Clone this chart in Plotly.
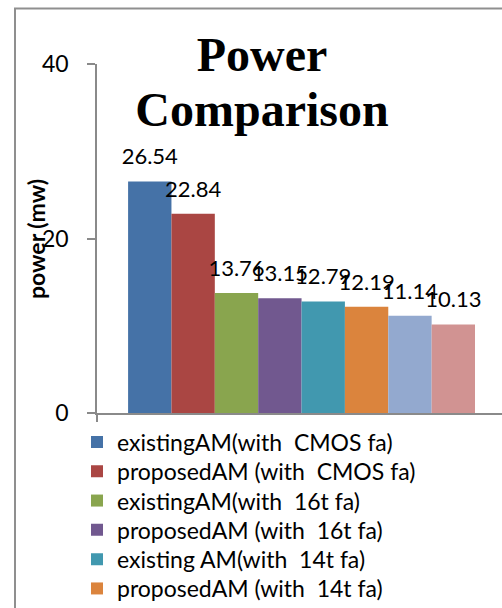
import plotly.graph_objects as go

# Power consumption of each array multiplier variant (mW)
series_names = [
    "existingAM(with  CMOS fa)",
    "proposedAM (with  CMOS fa)",
    "existingAM(with  16t fa)",
    "proposedAM (with  16t fa)",
    "existing AM(with  14t fa)",
    "proposedAM (with  14t fa)",
    "existingAM(with  10t fa)",
    "proposedAM (with  10t fa)",
]
power_mw = [26.54, 22.84, 13.76, 13.15, 12.79, 12.19, 11.14, 10.13]
series_colors = ["#4572A7", "#AA4643", "#89A54E", "#71588F",
                 "#4198AF", "#DB843D", "#93A9CF", "#D19392"]
category = [""]
y_ticks = [0, 20, 40]

W, H = 502, 608
ML, MR, MT, MB = 97, 0, 64, 195
plot_h = H - MT - MB
plot_w = W - ML - MR

def px_to_paper_y(py):
    return (H - MB - py) / plot_h

def px_to_paper_x(px):
    return (px - ML) / plot_w

fig = go.Figure()

# bars, one trace per variant, each with its own one-item legend
for i, (name, val, col) in enumerate(zip(series_names, power_mw, series_colors)):
    fig.add_trace(go.Bar(
        x=category, y=[val], name=name, marker_color=col,
        marker_line_width=0,
        legend="legend" if i == 0 else f"legend{i + 1}",
    ))

# value labels sitting above each bar (invisible marker sets the lift)
for name, val in zip(series_names, power_mw):
    fig.add_trace(go.Scatter(
        x=category, y=[val], mode="markers+text",
        text=[f"{val:.2f}"], textposition="top center",
        marker=dict(size=17, opacity=0),
        textfont=dict(family="Lato", size=22, color="#000000"),
        showlegend=False, hoverinfo="skip", cliponaxis=False,
    ))

legend_font = dict(family="Lato", size=23, color="#000000")
row0, row_step = 442, 29.3
legends = {}
for i in range(len(series_names)):
    key = "legend" if i == 0 else f"legend{i + 1}"
    legends[key] = dict(
        x=px_to_paper_x(77), xanchor="left",
        y=px_to_paper_y(row0 + row_step * i), yanchor="middle",
        font=legend_font, bgcolor="rgba(0,0,0,0)", borderwidth=0,
        visible=(i < 6),
    )

title_text = ("<span style='font-size:48px'>Power</span><br>"
              "<span style='font-size:48px'>Comparison</span>")

fig.update_layout(
    width=W, height=H,
    margin=dict(l=ML, r=MR, t=MT, b=MB, autoexpand=False),
    paper_bgcolor="white", plot_bgcolor="white",
    barmode="group", bargap=0.152, bargroupgap=0,
    scattermode="group", scattergap=0.152,
    title=dict(
        text=title_text,
        x=262 / W, xanchor="center", xref="container",
        y=1 - 71 / H, yanchor="top", yref="container",
        font=dict(family="Liberation Serif", size=42, color="#000000", weight="bold"),
    ),
    xaxis=dict(
        range=[-0.5, 0.49], showticklabels=False, showgrid=False,
        showline=True, linecolor="#8a8a8a", linewidth=1.5,
        ticks="outside", tickson="boundaries", ticklen=7,
        tickcolor="#8a8a8a", tickwidth=1.5, zeroline=False,
    ),
    yaxis=dict(
        range=[0, 40], tickvals=y_ticks, showgrid=False, zeroline=False,
        showline=True, linecolor="#8a8a8a", linewidth=1.5,
        ticks="outside", ticklen=8, tickcolor="#8a8a8a", tickwidth=1.5,
        tickfont=dict(family="Lato", size=23, color="#000000"),
        ticklabelstandoff=14,
    ),
    annotations=[dict(
        text="<b>power (mw)</b>", textangle=-90,
        xref="paper", yref="paper",
        x=px_to_paper_x(36), y=px_to_paper_y(239),
        xanchor="center", yanchor="middle", showarrow=False,
        font=dict(family="Lato", size=23, color="#000000"),
    )],
    shapes=[dict(
        type="rect", xref="paper", yref="paper", layer="below",
        x0=px_to_paper_x(15), x1=px_to_paper_x(W + 20),
        y0=px_to_paper_y(8.5), y1=px_to_paper_y(H + 20),
        line=dict(color="#8f8f8f", width=2), fillcolor="rgba(0,0,0,0)",
    )],
    **legends,
)

fig.write_html("out.html")
